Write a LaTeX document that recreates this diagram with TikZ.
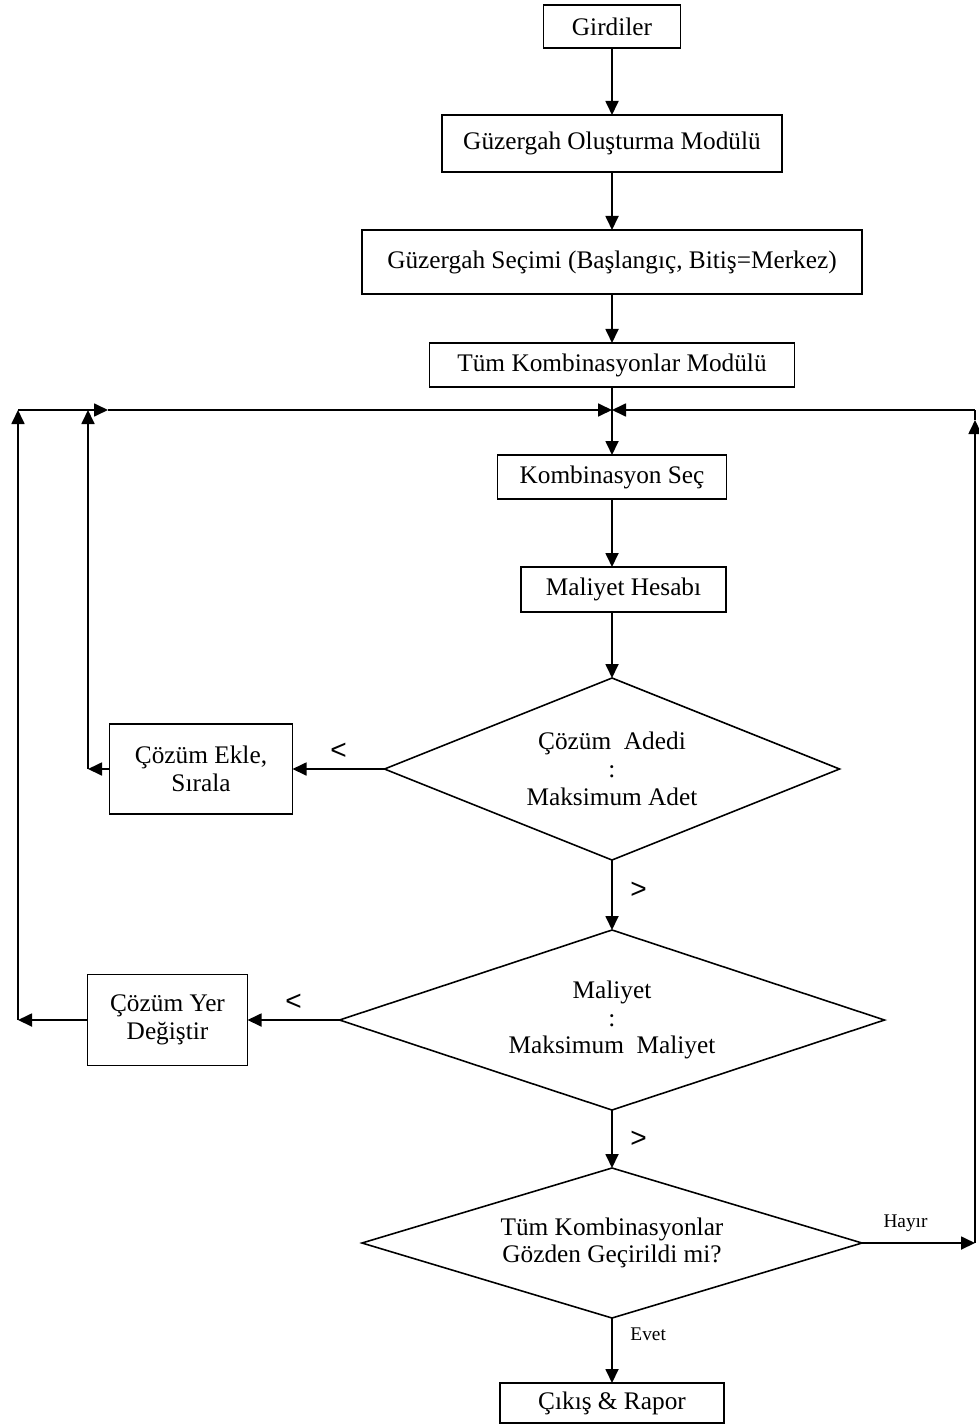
\documentclass[tikz,border=0pt]{standalone}
\usepackage{fontspec}
\setmainfont{Liberation Serif}
\newfontfamily\signfont{Liberation Sans}
\usepackage{tikz}
\usetikzlibrary{positioning,arrows.meta,shapes.geometric}
\newcommand{\boxfont}{\fontsize{14.4}{15.8}\selectfont}
\tikzset{
  box/.style={draw,line width=1pt,align=center,font=\boxfont,inner sep=2pt,outer sep=0pt},
  cond/.style={diamond,draw,line width=0.9pt,align=center,font=\boxfont,
               shape aspect=3,inner sep=0pt,outer sep=0pt},
  flow/.style={-{Triangle[length=2.8mm,width=2.6mm]},line width=1pt},
  link/.style={line width=1pt},
  sign/.style={font=\signfont\fontsize{16}{18}\selectfont,inner sep=1pt},
  note/.style={font=\fontsize{11}{13}\selectfont,inner sep=2pt},
}

\begin{document}
\begin{tikzpicture}
  \useasboundingbox (0,0) rectangle (19.56,-28.5);
  % main column
  \node[box,minimum width=2.74cm,minimum height=0.86cm] (gir) at (12.24,-0.53) {Girdiler};
  \node[box,minimum width=6.8cm,minimum height=1.14cm,below=1.34cm of gir] (olus) {Güzergah Oluşturma Modülü};
  \node[box,minimum width=10cm,minimum height=1.28cm,below=1.16cm of olus] (sec) {Güzergah Seçimi (Başlangıç, Bitiş=Merkez)};
  \node[box,minimum width=7.3cm,minimum height=0.88cm,below=0.98cm of sec] (tum) {Tüm Kombinasyonlar Modülü};
  \node[box,minimum width=4.58cm,minimum height=0.88cm,below=1.36cm of tum] (ksec) {Kombinasyon Seç};
  \node[box,minimum width=4.1cm,minimum height=0.9cm,below=1.36cm of ksec,xshift=0.23cm] (mal) {Maliyet Hesabı};
  \node[cond,minimum width=9.1cm,minimum height=3.64cm,below=1.32cm of mal,xshift=-0.23cm] (adet)
    {Çözüm\ \ Adedi\\:\\Maksimum Adet};
  \node[cond,minimum width=10.9cm,minimum height=3.6cm,below=1.4cm of adet] (maks)
    {Maliyet\\:\\Maksimum\ \ Maliyet};
  \node[cond,minimum width=10cm,minimum height=3cm,below=1.16cm of maks] (bitti)
    {Tüm Kombinasyonlar\\Gözden Geçirildi mi?};
  \node[box,minimum width=4.48cm,minimum height=0.8cm,below=1.3cm of bitti] (cikis) {Çıkış \& Rapor};
  % side boxes
  \node[box,minimum width=3.66cm,minimum height=1.8cm,left=1.84cm of adet] (ekle) {Çözüm Ekle,\\Sırala};
  \node[box,minimum width=3.2cm,minimum height=1.82cm,left=1.84cm of maks] (yer) {Çözüm Yer\\Değiştir};
  % return lines
  \coordinate (jn) at (tum.south |- 0,-8.2);
  \coordinate (top0) at (0.36,-8.2);
  \coordinate (top1) at (1.76,-8.2);
  \coordinate (top2) at (2.16,-8.2);
  \coordinate (topR) at (19.5,-8.2);
  \coordinate (tipR) at (19.5,-8.4);
  \coordinate (low1) at (ekle.west -| top1);
  \coordinate (low0) at (yer.west -| top0);
  \coordinate (lowR) at (bitti.east -| topR);

  \draw[flow] (gir) -- (olus);
  \draw[flow] (olus) -- (sec);
  \draw[flow] (sec) -- (tum);
  \draw[flow] (tum) -- (ksec);
  \draw[flow] (ksec.south) -- (ksec.south |- mal.north);
  \draw[flow] (adet.north |- mal.south) -- (adet.north);
  \draw[flow] (adet.west) -- node[sign,above=4pt] {<} (ekle.east);
  \draw[flow] (adet.south) -- node[sign,right=9pt,yshift=0.1cm] {>} (maks.north);
  \draw[flow] (maks.west) -- node[sign,above=4pt] {<} (yer.east);
  \draw[flow] (maks.south) -- node[sign,right=9pt] {>} (bitti.north);
  \draw[flow] (bitti.south) -- node[note,right=8pt,pos=0.25] {Evet} (cikis.north);
  \draw[flow] (bitti.east) -- node[note,above=4pt,xshift=-0.26cm] {Hayır} (lowR);
  \draw[flow] (ekle.west) -- (low1);
  \draw[flow] (yer.west) -- (low0);
  \draw[flow] (low1) -- (top1);
  \draw[flow] (low0) -- (top0);
  \draw[flow] (top0) -- (top2);
  \draw[flow] (top2) -- (jn);
  \draw[flow] (lowR) -- (tipR);
  \draw[link] (tipR) -- (topR);
  \draw[flow] (topR) -- (jn);
\end{tikzpicture}
\end{document}
